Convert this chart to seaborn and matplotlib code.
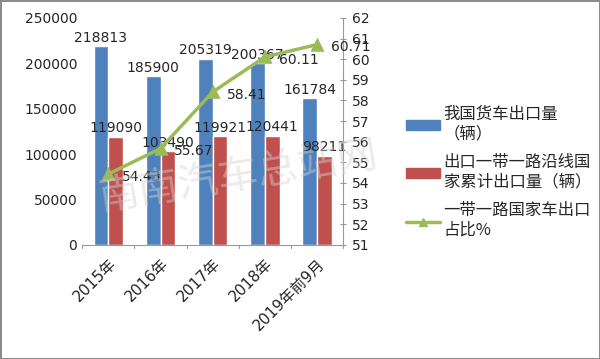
import matplotlib
matplotlib.use("Agg")
import matplotlib.pyplot as plt
import seaborn as sns
import pandas as pd
from matplotlib.patches import Patch
from matplotlib.lines import Line2D

years = ["2015年", "2016年", "2017年", "2018年", "2019年前9月"]
truck_export = [218813, 185900, 205319, 200367, 161784]
br_export = [119090, 103490, 119921, 120441, 98211]
br_share = [54.43, 55.67, 58.41, 60.11, 60.71]

s1 = "我国货车出口量\n（辆）"
s2 = "出口一带一路沿线国\n家累计出口量（辆）"
s3 = "一带一路国家车出口\n占比%"

sns.set_style("white")
plt.rcParams['font.family'] = ['DejaVu Sans', 'Noto Sans CJK SC']

df = pd.DataFrame({
    'year': years * 2,
    'value': truck_export + br_export,
    'series': [s1] * 5 + [s2] * 5,
})

fig = plt.figure(figsize=(6, 3.59), dpi=100, edgecolor='#8c8c8c', linewidth=2)
ax = fig.add_axes([0.137, 0.318, 0.435, 0.632])

# watermark
fig.text(0.16, 0.415, "南南汽车总站网", fontsize=29, color='#d4d4d4', alpha=0.45,
         rotation=9, family=['Noto Sans CJK SC'], zorder=0)

sns.barplot(data=df, x='year', y='value', hue='series', ax=ax,
            palette=['#4F81BD', '#C0504D'], width=0.56, saturation=1, legend=False)

for c in ax.containers:
    ax.bar_label(c, labels=[f"{int(v)}" for v in c.datavalues], padding=1, fontsize=10)

ax.set_ylim(0, 250000)
ax.set_yticks(range(0, 250001, 50000))
ax.set_xlim(-0.5, 4.5)
ax.set_xlabel("")
ax.set_ylabel("")
ax.tick_params(axis='y', labelsize=10, length=0)
ax.tick_params(axis='x', labelsize=11, length=0, pad=8)
plt.setp(ax.get_xticklabels(), rotation=45, ha='right', rotation_mode='anchor')
for side in ['top', 'left', 'right']:
    ax.spines[side].set_visible(False)
ax.spines['bottom'].set_color('#999999')
for b in [-0.5, 0.5, 1.5, 2.5, 3.5, 4.5]:
    ax.plot([b, b], [0, -4000], color='#999999', lw=0.8, clip_on=False)

ax2 = ax.twinx()
sns.pointplot(x=years, y=br_share, ax=ax2, color='#9BBB59', markers='^',
              linewidth=2.5, markersize=7)
ax2.set_ylim(51, 62)
ax2.set_yticks(range(51, 63))
ax2.set_xlim(-0.5, 4.5)
ax2.tick_params(axis='y', labelsize=10, direction='inout', length=5, color='#999999', pad=4)
for side in ['top', 'left', 'bottom']:
    ax2.spines[side].set_visible(False)
ax2.spines['right'].set_color('#999999')
for i, v in enumerate(br_share):
    ax2.annotate(f"{v:.2f}", (i, v), xytext=(10, -2), textcoords='offset points',
                 fontsize=10, va='center', ha='left')

handles = [Patch(color='#4F81BD', label=s1),
           Patch(color='#C0504D', label=s2),
           Line2D([0], [0], color='#9BBB59', lw=2.5, marker='^', markersize=6, label=s3)]
fig.legend(handles=handles, loc='center left', bbox_to_anchor=(0.652, 0.52), frameon=False,
           handlelength=2.1, handleheight=0.5, handletextpad=0.2,
           labelspacing=0.7, prop={'family': ['Noto Sans CJK SC'], 'size': 11.8})

fig.savefig("out.png", dpi=100, edgecolor=fig.get_edgecolor())
